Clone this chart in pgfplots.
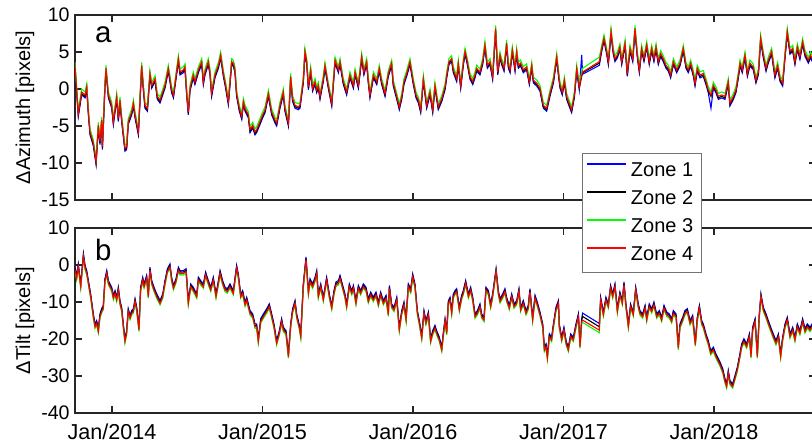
\documentclass[border=0pt]{standalone}
\usepackage{fontspec}
\setmainfont{Liberation Sans}
\usepackage{pgfplots}
\usepackage{pgfplotstable}
\pgfplotsset{compat=1.18}

% azimuth offsets, one row per sampled date (decimal year)
\pgfplotstableread{
t z1 z2 z3 z4
2013.754 2.8 3.0 3.6 3.2
2013.765 -0.5 -0.3 0.3 -0.1
2013.776 -3.7 -3.5 -2.9 -3.3
2013.798 -0.8 -0.6 0.0 -0.4
2013.821 -1.2 -1.0 -0.4 -0.8
2013.832 -0.1 0.1 0.7 0.3
2013.843 -3.5 -3.3 -2.7 -3.1
2013.854 -6.2 -6.0 -5.4 -5.8
2013.876 -7.7 -7.5 -6.9 -7.3
2013.894 -10.2 -10.0 -9.4 -9.8
2013.909 -5.3 -5.1 -4.5 -4.9
2013.920 -7.5 -7.3 -6.7 -7.1
2013.931 -4.6 -4.4 -3.8 -4.2
2013.936 -8.2 -8.0 -7.4 -7.8
2013.953 0.1 0.3 0.9 0.5
2013.960 2.4 2.6 3.2 2.8
2013.976 -1.2 -1.0 -0.4 -0.8
2013.998 -2.6 -2.4 -1.8 -2.2
2014.009 -4.8 -4.6 -4.0 -4.4
2014.031 -1.4 -1.2 -0.6 -1.0
2014.042 -4.4 -4.2 -3.6 -4.0
2014.053 -1.9 -1.7 -1.1 -1.5
2014.064 -4.4 -4.2 -3.6 -4.0
2014.086 -8.4 -8.2 -7.6 -8.0
2014.097 -8.2 -8.0 -7.4 -7.8
2014.108 -4.8 -4.6 -4.0 -4.4
2014.131 -3.5 -3.3 -2.7 -3.1
2014.142 -2.3 -2.1 -1.5 -1.9
2014.153 -3.9 -3.7 -3.1 -3.5
2014.175 -6.2 -6.0 -5.4 -5.8
2014.197 2.8 3.0 3.6 3.2
2014.208 -0.1 0.1 0.7 0.3
2014.219 -2.6 -2.4 -1.8 -2.2
2014.235 -3.0 -2.8 -2.2 -2.6
2014.252 1.7 1.9 2.5 2.1
2014.264 0.1 0.3 0.9 0.5
2014.286 1.0 1.2 1.8 1.4
2014.301 -1.4 -1.2 -0.6 -1.0
2014.319 -1.9 -1.7 -1.1 -1.5
2014.352 0.1 0.3 0.9 0.5
2014.374 2.4 2.6 3.2 2.8
2014.385 1.0 1.2 1.8 1.4
2014.396 -0.5 -0.3 0.3 -0.1
2014.408 -1.2 -1.0 -0.4 -0.8
2014.441 3.7 3.9 4.5 4.1
2014.452 1.9 2.1 2.7 2.3
2014.474 2.2 2.4 3.0 2.6
2014.485 2.6 2.8 3.4 3.0
2014.496 -0.8 -0.6 0.0 -0.4
2014.507 -3.5 -3.3 -2.7 -3.1
2014.518 -0.3 -0.1 0.5 0.1
2014.540 1.5 1.7 2.3 1.9
2014.551 0.6 0.8 1.4 1.0
2014.574 2.2 2.4 3.0 2.6
2014.596 3.3 3.5 4.1 3.7
2014.607 0.6 0.8 1.4 1.0
2014.618 1.9 2.1 2.7 2.3
2014.640 3.3 3.5 4.1 3.7
2014.651 1.9 2.1 2.7 2.3
2014.662 -1.0 -0.8 -0.2 -0.6
2014.684 1.5 1.7 2.3 1.9
2014.707 2.8 3.0 3.6 3.2
2014.722 4.2 4.4 5.0 4.6
2014.740 1.7 1.9 2.5 2.1
2014.755 0.1 0.3 0.9 0.5
2014.773 -2.1 -1.9 -1.3 -1.7
2014.795 3.3 3.5 4.1 3.7
2014.806 3.1 3.3 3.9 3.5
2014.817 2.2 2.4 3.0 2.6
2014.828 -1.0 -0.8 -0.2 -0.6
2014.846 -3.0 -2.8 -2.2 -2.6
2014.862 -4.1 -3.9 -3.3 -3.7
2014.873 -2.1 -1.9 -1.3 -1.7
2014.884 -3.0 -2.8 -2.2 -2.6
2014.906 -3.9 -3.7 -3.1 -3.5
2014.917 -5.9 -5.7 -5.1 -5.5
2014.935 -5.3 -5.1 -4.5 -4.9
2014.950 -6.2 -6.0 -5.4 -5.8
2014.961 -5.9 -5.7 -5.1 -5.5
2014.983 -4.8 -4.6 -4.0 -4.4
2015.001 -3.9 -3.7 -3.1 -3.5
2015.017 -3.2 -3.0 -2.4 -2.8
2015.039 -1.0 -0.8 -0.2 -0.6
2015.061 -3.5 -3.3 -2.7 -3.1
2015.083 -4.6 -4.4 -3.8 -4.2
2015.094 -5.0 -4.8 -4.2 -4.6
2015.116 -2.6 -2.4 -1.8 -2.2
2015.138 -0.8 -0.6 0.0 -0.4
2015.149 -3.0 -2.8 -2.2 -2.6
2015.172 -5.0 -4.8 -4.2 -4.6
2015.187 1.3 1.5 2.1 1.7
2015.200 -1.7 -1.5 -0.9 -1.3
2015.216 -2.6 -2.4 -1.8 -2.2
2015.238 -2.8 -2.6 -2.0 -2.4
2015.249 -2.6 -2.4 -1.8 -2.2
2015.271 0.8 1.0 1.6 1.2
2015.282 4.7 4.9 5.5 5.1
2015.294 3.3 3.5 4.1 3.7
2015.305 -0.1 0.1 0.7 0.3
2015.320 2.2 2.4 3.0 2.6
2015.333 -0.3 -0.1 0.5 0.1
2015.349 0.6 0.8 1.4 1.0
2015.360 -0.5 -0.3 0.3 -0.1
2015.371 0.1 0.3 0.9 0.5
2015.382 -1.4 -1.2 -0.6 -1.0
2015.404 1.0 1.2 1.8 1.4
2015.415 2.8 3.0 3.6 3.2
2015.437 0.1 0.3 0.9 0.5
2015.460 -2.3 -2.1 -1.5 -1.9
2015.482 3.5 3.7 4.3 3.9
2015.504 2.2 2.4 3.0 2.6
2015.515 3.3 3.5 4.1 3.7
2015.537 0.6 0.8 1.4 1.0
2015.559 -0.8 -0.6 0.0 -0.4
2015.581 1.5 1.7 2.3 1.9
2015.604 0.1 0.3 0.9 0.5
2015.615 1.9 2.1 2.7 2.3
2015.637 0.1 0.3 0.9 0.5
2015.659 4.0 4.2 4.8 4.4
2015.674 1.9 2.1 2.7 2.3
2015.692 3.3 3.5 4.1 3.7
2015.703 0.8 1.0 1.6 1.2
2015.714 -1.2 -1.0 -0.4 -0.8
2015.737 1.5 1.7 2.3 1.9
2015.759 0.6 0.8 1.4 1.0
2015.776 2.4 2.6 3.2 2.8
2015.792 0.6 0.8 1.4 1.0
2015.814 -1.0 -0.8 -0.2 -0.6
2015.836 1.7 1.9 2.5 2.1
2015.858 3.1 3.3 3.9 3.5
2015.869 0.4 0.6 1.2 0.8
2015.892 -1.4 -1.2 -0.6 -1.0
2015.909 -2.8 -2.6 -2.0 -2.4
2015.925 -1.4 -1.2 -0.6 -1.0
2015.940 0.6 0.8 1.4 1.0
2015.958 1.7 1.9 2.5 2.1
2015.980 3.3 3.5 4.1 3.7
2016.002 0.6 0.8 1.4 1.0
2016.020 -1.2 -1.0 -0.4 -0.8
2016.036 -1.9 -1.7 -1.1 -1.5
2016.051 -3.2 -3.0 -2.4 -2.8
2016.069 1.0 1.2 1.8 1.4
2016.091 -2.6 -2.4 -1.8 -2.2
2016.113 -0.8 -0.6 0.0 -0.4
2016.131 -3.2 -3.0 -2.4 -2.8
2016.146 0.1 0.3 0.9 0.5
2016.168 -2.8 -2.6 -2.0 -2.4
2016.191 -1.7 -1.5 -0.9 -1.3
2016.213 -0.1 0.1 0.7 0.3
2016.224 1.5 1.7 2.3 1.9
2016.239 3.3 3.5 4.1 3.7
2016.257 3.7 3.9 4.5 4.1
2016.268 2.2 2.4 3.0 2.6
2016.290 1.0 1.2 1.8 1.4
2016.301 3.1 3.3 3.9 3.5
2016.317 0.1 0.3 0.9 0.5
2016.335 3.3 3.5 4.1 3.7
2016.346 4.7 4.9 5.5 5.1
2016.361 3.3 3.5 4.1 3.7
2016.379 1.3 1.5 2.1 1.7
2016.397 0.6 0.8 1.4 1.0
2016.412 1.5 1.7 2.3 1.9
2016.423 2.4 2.6 3.2 2.8
2016.445 1.9 2.1 2.7 2.3
2016.463 3.3 3.5 4.1 3.7
2016.478 5.6 5.8 6.4 6.0
2016.494 2.8 3.0 3.6 3.2
2016.512 3.3 3.5 4.1 3.7
2016.529 1.3 1.5 2.1 1.7
2016.549 7.8 8.0 8.6 8.2
2016.563 1.9 2.1 2.7 2.3
2016.578 4.2 4.4 5.0 4.6
2016.589 3.3 3.5 4.1 3.7
2016.605 2.4 2.6 3.2 2.8
2016.622 5.8 6.0 6.6 6.2
2016.634 2.8 3.0 3.6 3.2
2016.645 2.2 2.4 3.0 2.6
2016.660 4.9 5.1 5.7 5.3
2016.678 2.4 2.6 3.2 2.8
2016.689 4.7 4.9 5.5 5.1
2016.700 2.8 3.0 3.6 3.2
2016.715 3.1 3.3 3.9 3.5
2016.733 2.2 2.4 3.0 2.6
2016.755 2.6 2.8 3.4 3.0
2016.773 0.6 0.8 1.4 1.0
2016.789 2.8 3.0 3.6 3.2
2016.800 0.8 1.0 1.6 1.2
2016.822 0.4 0.6 1.2 0.8
2016.844 -0.3 -0.1 0.5 0.1
2016.866 -2.6 -2.4 -1.8 -2.2
2016.888 -3.0 -2.8 -2.2 -2.6
2016.910 -1.0 -0.8 -0.2 -0.6
2016.933 0.8 1.0 1.6 1.2
2016.955 4.0 4.2 4.8 4.4
2016.966 1.9 2.1 2.7 2.3
2016.977 0.1 0.3 0.9 0.5
2016.992 -0.8 -0.6 0.0 -0.4
2017.006 0.8 1.0 1.6 1.2
2017.021 -1.4 -1.2 -0.6 -1.0
2017.037 -2.3 -2.1 -1.5 -1.9
2017.054 -3.2 -3.0 -2.4 -2.8
2017.072 -1.2 -1.0 -0.4 -0.8
2017.088 2.4 2.6 3.2 2.8
2017.105 -0.1 0.1 0.7 0.3
2017.121 4.6 1.7 2.3 1.9
2017.127 2.0 2.2 2.8 2.3
2017.238 3.2 3.5 4.3 3.7
2017.254 5.1 5.3 5.9 5.5
2017.269 6.5 6.7 7.3 6.9
2017.287 4.7 4.9 5.5 5.1
2017.298 3.3 3.5 4.1 3.7
2017.316 7.4 7.6 8.2 7.8
2017.331 4.7 4.9 5.5 5.1
2017.342 3.7 3.9 4.5 4.1
2017.358 4.2 4.4 5.0 4.6
2017.375 5.3 5.5 6.1 5.7
2017.387 3.3 3.5 4.1 3.7
2017.409 5.8 6.0 6.6 6.2
2017.424 1.7 1.9 2.5 2.1
2017.442 5.1 5.3 5.9 5.5
2017.460 3.7 3.9 4.5 4.1
2017.475 7.8 8.0 8.6 8.2
2017.491 4.2 4.4 5.0 4.6
2017.504 2.2 2.4 3.0 2.6
2017.519 5.1 5.3 5.9 5.5
2017.535 3.7 3.9 4.5 4.1
2017.553 5.6 5.8 6.4 6.0
2017.570 3.3 3.5 4.1 3.7
2017.586 5.1 5.3 5.9 5.5
2017.601 3.7 3.9 4.5 4.1
2017.615 5.3 5.5 6.1 5.7
2017.630 3.3 3.5 4.1 3.7
2017.646 4.4 4.6 5.2 4.8
2017.663 3.7 3.9 4.5 4.1
2017.681 2.8 3.0 3.6 3.2
2017.697 2.4 2.6 3.2 2.8
2017.712 1.5 1.7 2.3 1.9
2017.730 3.3 3.5 4.1 3.7
2017.752 2.2 2.4 3.0 2.6
2017.774 3.1 3.3 3.9 3.5
2017.796 5.1 5.3 5.9 5.5
2017.814 2.8 3.0 3.6 3.2
2017.829 2.2 2.4 3.0 2.6
2017.845 3.1 3.3 3.9 3.5
2017.863 1.7 1.9 2.5 2.1
2017.874 0.4 0.6 1.2 0.8
2017.889 2.4 2.6 3.2 2.8
2017.907 1.5 1.7 2.3 1.9
2017.929 1.7 1.9 2.5 2.1
2017.947 0.6 0.8 1.4 1.0
2017.962 -0.5 -0.3 0.3 -0.1
2017.980 -2.6 -1.0 -0.4 -0.8
2017.996 0.1 0.3 0.9 0.5
2018.013 -0.5 -0.3 0.3 -0.1
2018.029 -1.4 -1.2 -0.6 -1.0
2018.051 -1.2 -1.0 -0.4 -0.8
2018.073 -1.4 -1.2 -0.6 -1.0
2018.095 0.6 0.8 1.4 1.0
2018.106 -2.3 -2.1 -1.5 -1.9
2018.129 -1.4 -1.2 -0.6 -1.0
2018.146 -0.5 -0.3 0.3 -0.1
2018.162 1.5 1.7 2.3 1.9
2018.173 3.1 3.3 3.9 3.5
2018.188 2.2 2.4 3.0 2.6
2018.206 4.2 4.4 5.0 4.6
2018.222 1.7 1.9 2.5 2.1
2018.239 3.1 3.3 3.9 3.5
2018.261 2.6 2.8 3.4 3.0
2018.279 0.8 1.0 1.6 1.2
2018.295 1.9 2.1 2.7 2.3
2018.310 6.5 6.7 7.3 6.9
2018.328 4.2 4.4 5.0 4.6
2018.346 2.4 2.6 3.2 2.8
2018.361 3.5 3.7 4.3 3.9
2018.383 4.7 4.9 5.5 5.1
2018.405 1.5 1.7 2.3 1.9
2018.423 2.8 3.0 3.6 3.2
2018.439 1.0 1.2 1.8 1.4
2018.456 0.4 0.6 1.2 0.8
2018.472 4.2 4.4 5.0 4.6
2018.487 7.4 7.6 8.2 7.8
2018.505 4.7 4.9 5.5 5.1
2018.523 5.1 5.3 5.9 5.5
2018.538 3.3 3.5 4.1 3.7
2018.554 5.3 5.5 6.1 5.7
2018.571 4.0 4.2 4.8 4.4
2018.589 6.0 6.2 6.8 6.4
2018.605 4.4 4.6 5.2 4.8
2018.627 3.5 3.7 4.3 3.9
2018.642 4.2 4.4 5.0 4.6
2018.665 3.2 3.4 4.0 3.6
2018.690 4.6 4.8 5.4 5.0
}\azdata

% tilt offsets
\pgfplotstableread{
t z1 z2 z3 z4
2013.754 -0.6 -1.0 -1.8 -1.4
2013.765 -2.8 -3.2 -4.0 -3.6
2013.776 0.3 -0.1 -0.9 -0.5
2013.792 -5.1 -5.5 -6.3 -5.9
2013.810 3.1 2.7 1.9 2.3
2013.821 -0.1 -0.5 -1.3 -0.9
2013.832 -1.5 -1.9 -2.7 -2.3
2013.843 -4.2 -4.6 -5.4 -5.0
2013.858 -7.8 -8.2 -9.0 -8.6
2013.876 -13.2 -13.6 -14.4 -14.0
2013.887 -15.9 -16.3 -17.1 -16.7
2013.898 -15.0 -15.4 -16.2 -15.8
2013.909 -17.2 -17.6 -18.4 -18.0
2013.920 -13.2 -13.6 -14.4 -14.0
2013.931 -11.8 -12.2 -13.0 -12.6
2013.942 -10.9 -11.3 -12.1 -11.7
2013.953 -3.7 -4.1 -4.9 -4.5
2013.965 -1.5 -1.9 -2.7 -2.3
2013.976 -4.2 -4.6 -5.4 -5.0
2013.998 -6.0 -6.4 -7.2 -6.8
2014.009 -8.2 -8.6 -9.4 -9.0
2014.020 -6.9 -7.3 -8.1 -7.7
2014.031 -8.7 -9.1 -9.9 -9.5
2014.042 -6.0 -6.4 -7.2 -6.8
2014.053 -9.6 -10.0 -10.8 -10.4
2014.064 -11.4 -11.8 -12.6 -12.2
2014.075 -15.9 -16.3 -17.1 -16.7
2014.086 -19.9 -20.3 -21.1 -20.7
2014.097 -17.7 -18.1 -18.9 -18.5
2014.108 -11.8 -12.2 -13.0 -12.6
2014.120 -13.6 -14.0 -14.8 -14.4
2014.131 -12.3 -12.7 -13.5 -13.1
2014.142 -11.8 -12.2 -13.0 -12.6
2014.153 -9.1 -9.5 -10.3 -9.9
2014.164 -11.4 -11.8 -12.6 -12.2
2014.179 -16.8 -17.2 -18.0 -17.6
2014.190 -6.0 -6.4 -7.2 -6.8
2014.204 -3.3 -3.7 -4.5 -4.1
2014.213 -5.1 -5.5 -6.3 -5.9
2014.230 -2.8 -3.2 -4.0 -3.6
2014.241 -7.8 -8.2 -9.0 -8.6
2014.252 -0.6 -1.0 -1.8 -1.4
2014.264 -4.2 -4.6 -5.4 -5.0
2014.279 -6.0 -6.4 -7.2 -6.8
2014.297 -7.8 -8.2 -9.0 -8.6
2014.319 -9.6 -10.0 -10.8 -10.4
2014.337 -7.8 -8.2 -9.0 -8.6
2014.352 -4.2 -4.6 -5.4 -5.0
2014.368 -1.0 -1.4 -2.2 -1.8
2014.385 0.3 -0.1 -0.9 -0.5
2014.396 -3.3 -3.7 -4.5 -4.1
2014.408 -5.5 -5.9 -6.7 -6.3
2014.425 -3.7 -4.1 -4.9 -4.5
2014.441 -0.6 -1.0 -1.8 -1.4
2014.452 -1.5 -1.9 -2.7 -2.3
2014.474 -1.5 -1.9 -2.7 -2.3
2014.492 -1.0 -1.4 -2.2 -1.8
2014.507 -9.6 -10.0 -10.8 -10.4
2014.523 -5.1 -5.5 -6.3 -5.9
2014.540 -6.0 -6.4 -7.2 -6.8
2014.563 -7.8 -8.2 -9.0 -8.6
2014.574 -3.3 -3.7 -4.5 -4.1
2014.589 -4.2 -4.6 -5.4 -5.0
2014.607 -5.1 -5.5 -6.3 -5.9
2014.622 -1.9 -2.3 -3.1 -2.7
2014.640 -4.2 -4.6 -5.4 -5.0
2014.656 -6.0 -6.4 -7.2 -6.8
2014.673 -3.3 -3.7 -4.5 -4.1
2014.691 -7.8 -8.2 -9.0 -8.6
2014.707 -4.2 -4.6 -5.4 -5.0
2014.718 -1.5 -1.9 -2.7 -2.3
2014.735 -4.2 -4.6 -5.4 -5.0
2014.751 -6.0 -6.4 -7.2 -6.8
2014.766 -6.4 -6.8 -7.6 -7.2
2014.784 -5.1 -5.5 -6.3 -5.9
2014.806 -6.9 -7.3 -8.1 -7.7
2014.828 -0.1 -0.5 -1.3 -0.9
2014.839 -2.4 -2.8 -3.6 -3.2
2014.855 -7.8 -8.2 -9.0 -8.6
2014.868 -6.9 -7.3 -8.1 -7.7
2014.884 -10.0 -10.4 -11.2 -10.8
2014.895 -8.7 -9.1 -9.9 -9.5
2014.917 -12.3 -12.7 -13.5 -13.1
2014.935 -13.2 -13.6 -14.4 -14.0
2014.950 -15.9 -16.3 -17.1 -16.7
2014.961 -15.9 -16.3 -17.1 -16.7
2014.972 -19.9 -20.3 -21.1 -20.7
2014.988 -14.5 -14.9 -15.7 -15.3
2015.006 -13.2 -13.6 -14.4 -14.0
2015.028 -11.8 -12.2 -13.0 -12.6
2015.045 -10.5 -10.9 -11.7 -11.3
2015.061 -13.2 -13.6 -14.4 -14.0
2015.076 -15.9 -16.3 -17.1 -16.7
2015.094 -20.4 -20.8 -21.6 -21.2
2015.112 -17.7 -18.1 -18.9 -18.5
2015.127 -14.5 -14.9 -15.7 -15.3
2015.138 -16.8 -17.2 -18.0 -17.6
2015.156 -17.7 -18.1 -18.9 -18.5
2015.172 -24.0 -24.4 -25.2 -24.8
2015.187 -15.9 -16.3 -17.1 -16.7
2015.200 -11.8 -12.2 -13.0 -12.6
2015.216 -9.6 -10.0 -10.8 -10.4
2015.227 -13.2 -13.6 -14.4 -14.0
2015.245 -16.3 -16.7 -17.5 -17.1
2015.254 -18.6 -19.0 -19.8 -19.4
2015.271 -5.1 -5.5 -6.3 -5.9
2015.289 2.2 1.8 1.0 1.4
2015.305 -6.9 -7.3 -8.1 -7.7
2015.316 -3.7 -4.1 -4.9 -4.5
2015.333 -5.1 -5.5 -6.3 -5.9
2015.349 -3.3 -3.7 -4.5 -4.1
2015.360 -1.5 -1.9 -2.7 -2.3
2015.371 -7.8 -8.2 -9.0 -8.6
2015.387 -5.1 -5.5 -6.3 -5.9
2015.404 -8.7 -9.1 -9.9 -9.5
2015.415 -6.0 -6.4 -7.2 -6.8
2015.426 -3.3 -3.7 -4.5 -4.1
2015.444 -7.8 -8.2 -9.0 -8.6
2015.460 -10.9 -11.3 -12.1 -11.7
2015.475 -6.9 -7.3 -8.1 -7.7
2015.488 -4.6 -5.0 -5.8 -5.4
2015.504 -4.2 -4.6 -5.4 -5.0
2015.515 -2.8 -3.2 -4.0 -3.6
2015.533 -5.5 -5.9 -6.7 -6.3
2015.548 -7.8 -8.2 -9.0 -8.6
2015.559 -10.5 -10.9 -11.7 -11.3
2015.577 -5.1 -5.5 -6.3 -5.9
2015.593 -6.9 -7.3 -8.1 -7.7
2015.604 -5.5 -5.9 -6.7 -6.3
2015.621 -9.6 -10.0 -10.8 -10.4
2015.637 -5.5 -5.9 -6.7 -6.3
2015.652 -6.9 -7.3 -8.1 -7.7
2015.670 -5.1 -5.5 -6.3 -5.9
2015.688 -6.0 -6.4 -7.2 -6.8
2015.703 -9.1 -9.5 -10.3 -9.9
2015.719 -7.3 -7.7 -8.5 -8.1
2015.736 -8.7 -9.1 -9.9 -9.5
2015.754 -7.3 -7.7 -8.5 -8.1
2015.770 -10.0 -10.4 -11.2 -10.8
2015.785 -7.3 -7.7 -8.5 -8.1
2015.803 -9.6 -10.0 -10.8 -10.4
2015.821 -8.2 -8.6 -9.4 -9.0
2015.836 -12.7 -13.1 -13.9 -13.5
2015.843 -5.5 -5.9 -6.7 -6.3
2015.858 -10.5 -10.9 -11.7 -11.3
2015.874 -11.4 -11.8 -12.6 -12.2
2015.892 -8.7 -9.1 -9.9 -9.5
2015.909 -16.8 -17.2 -18.0 -17.6
2015.925 -12.3 -12.7 -13.5 -13.1
2015.940 -10.0 -10.4 -11.2 -10.8
2015.954 -14.1 -14.5 -15.3 -14.9
2015.969 -5.1 -5.5 -6.3 -5.9
2015.985 -6.4 -6.8 -7.6 -7.2
2015.998 -2.4 -2.8 -3.6 -3.2
2016.013 -5.1 -5.5 -6.3 -5.9
2016.029 -12.3 -12.7 -13.5 -13.1
2016.042 -15.0 -15.4 -16.2 -15.8
2016.058 -19.0 -19.4 -20.2 -19.8
2016.073 -12.3 -12.7 -13.5 -13.1
2016.086 -15.0 -15.4 -16.2 -15.8
2016.102 -12.7 -13.1 -13.9 -13.5
2016.117 -19.9 -20.3 -21.1 -20.7
2016.131 -17.7 -18.1 -18.9 -18.5
2016.146 -16.3 -16.7 -17.5 -17.1
2016.157 -17.7 -18.1 -18.9 -18.5
2016.175 -19.5 -19.9 -20.7 -20.3
2016.191 -22.2 -22.6 -23.4 -23.0
2016.202 -18.1 -18.5 -19.3 -18.9
2016.213 -14.5 -14.9 -15.7 -15.3
2016.224 -17.7 -18.1 -18.9 -18.5
2016.235 -9.6 -10.0 -10.8 -10.4
2016.246 -8.7 -9.1 -9.9 -9.5
2016.257 -12.3 -12.7 -13.5 -13.1
2016.268 -7.8 -8.2 -9.0 -8.6
2016.279 -6.9 -7.3 -8.1 -7.7
2016.290 -6.4 -6.8 -7.6 -7.2
2016.308 -11.4 -11.8 -12.6 -12.2
2016.323 -8.2 -8.6 -9.4 -9.0
2016.334 -6.9 -7.3 -8.1 -7.7
2016.350 -4.2 -4.6 -5.4 -5.0
2016.368 -7.8 -8.2 -9.0 -8.6
2016.383 -6.0 -6.4 -7.2 -6.8
2016.397 -8.7 -9.1 -9.9 -9.5
2016.412 -13.2 -13.6 -14.4 -14.0
2016.428 -12.3 -12.7 -13.5 -13.1
2016.445 -10.5 -10.9 -11.7 -11.3
2016.456 -13.2 -13.6 -14.4 -14.0
2016.472 -14.1 -14.5 -15.3 -14.9
2016.485 -6.0 -6.4 -7.2 -6.8
2016.501 -6.9 -7.3 -8.1 -7.7
2016.516 -10.5 -10.9 -11.7 -11.3
2016.529 -7.8 -8.2 -9.0 -8.6
2016.552 -1.0 -1.4 -2.2 -1.8
2016.567 -6.9 -7.3 -8.1 -7.7
2016.578 -9.1 -9.5 -10.3 -9.9
2016.596 -7.8 -8.2 -9.0 -8.6
2016.611 -6.4 -6.8 -7.6 -7.2
2016.622 -8.7 -9.1 -9.9 -9.5
2016.640 -10.9 -11.3 -12.1 -11.7
2016.656 -7.8 -8.2 -9.0 -8.6
2016.671 -10.5 -10.9 -11.7 -11.3
2016.689 -9.6 -10.0 -10.8 -10.4
2016.704 -6.4 -6.8 -7.6 -7.2
2016.715 -11.4 -11.8 -12.6 -12.2
2016.733 -9.6 -10.0 -10.8 -10.4
2016.751 -12.3 -12.7 -13.5 -13.1
2016.766 -10.9 -11.3 -12.1 -11.7
2016.777 -6.4 -6.8 -7.6 -7.2
2016.795 -14.1 -14.5 -15.3 -14.9
2016.811 -8.2 -8.6 -9.4 -9.0
2016.826 -10.0 -10.4 -11.2 -10.8
2016.844 -12.7 -13.1 -13.9 -13.5
2016.862 -15.9 -16.3 -17.1 -16.7
2016.873 -22.2 -22.6 -23.4 -23.0
2016.884 -21.3 -21.7 -22.5 -22.1
2016.893 -24.4 -24.8 -25.6 -25.2
2016.906 -18.6 -19.0 -19.8 -19.4
2016.921 -19.5 -19.9 -20.7 -20.3
2016.933 -15.9 -16.3 -17.1 -16.7
2016.950 -11.4 -11.8 -12.6 -12.2
2016.966 -9.6 -10.0 -10.8 -10.4
2016.972 -15.9 -16.3 -17.1 -16.7
2016.988 -19.5 -19.9 -20.7 -20.3
2017.003 -16.8 -17.2 -18.0 -17.6
2017.017 -20.4 -20.8 -21.6 -21.2
2017.032 -22.2 -22.6 -23.4 -23.0
2017.048 -18.6 -19.0 -19.8 -19.4
2017.065 -19.5 -19.9 -20.7 -20.3
2017.083 -15.9 -16.3 -17.1 -16.7
2017.099 -13.2 -13.6 -14.4 -14.0
2017.110 -21.3 -21.7 -22.5 -22.1
2017.121 -14.5 -14.9 -15.7 -15.3
2017.127 -13.0 -13.9 -15.5 -14.9
2017.238 -15.8 -16.7 -18.3 -17.6
2017.247 -8.7 -9.1 -9.9 -9.5
2017.265 -12.7 -13.1 -13.9 -13.5
2017.282 -8.7 -9.1 -9.9 -9.5
2017.298 -10.5 -10.9 -11.7 -11.3
2017.313 -5.5 -5.9 -6.7 -6.3
2017.327 -7.8 -8.2 -9.0 -8.6
2017.342 -5.1 -5.5 -6.3 -5.9
2017.358 -11.8 -12.2 -13.0 -12.6
2017.375 -7.3 -7.7 -8.5 -8.1
2017.391 -9.6 -10.0 -10.8 -10.4
2017.402 -4.6 -5.0 -5.8 -5.4
2017.415 -10.5 -10.9 -11.7 -11.3
2017.431 -15.9 -16.3 -17.1 -16.7
2017.446 -10.5 -10.9 -11.7 -11.3
2017.464 -12.7 -13.1 -13.9 -13.5
2017.480 -6.0 -6.4 -7.2 -6.8
2017.497 -10.5 -10.9 -11.7 -11.3
2017.508 -12.3 -12.7 -13.5 -13.1
2017.526 -13.2 -13.6 -14.4 -14.0
2017.542 -10.9 -11.3 -12.1 -11.7
2017.553 -14.1 -14.5 -15.3 -14.9
2017.570 -10.5 -10.9 -11.7 -11.3
2017.586 -11.8 -12.2 -13.0 -12.6
2017.601 -10.0 -10.4 -11.2 -10.8
2017.619 -13.2 -13.6 -14.4 -14.0
2017.637 -12.3 -12.7 -13.5 -13.1
2017.652 -14.1 -14.5 -15.3 -14.9
2017.668 -10.9 -11.3 -12.1 -11.7
2017.686 -12.7 -13.1 -13.9 -13.5
2017.703 -13.2 -13.6 -14.4 -14.0
2017.719 -14.5 -14.9 -15.7 -15.3
2017.730 -12.3 -12.7 -13.5 -13.1
2017.748 -13.2 -13.6 -14.4 -14.0
2017.763 -21.7 -22.1 -22.9 -22.5
2017.774 -15.9 -16.3 -17.1 -16.7
2017.792 -14.1 -14.5 -15.3 -14.9
2017.807 -12.3 -12.7 -13.5 -13.1
2017.823 -11.8 -12.2 -13.0 -12.6
2017.841 -15.0 -15.4 -16.2 -15.8
2017.858 -13.6 -14.0 -14.8 -14.4
2017.876 -20.8 -21.2 -22.0 -21.6
2017.889 -14.1 -14.5 -15.3 -14.9
2017.903 -10.9 -11.3 -12.1 -11.7
2017.918 -15.0 -15.4 -16.2 -15.8
2017.929 -15.9 -16.3 -17.1 -16.7
2017.947 -18.6 -19.0 -19.8 -19.4
2017.962 -20.4 -20.8 -21.6 -21.2
2017.978 -23.1 -23.5 -24.3 -23.9
2017.996 -22.2 -22.6 -23.4 -23.0
2018.013 -24.0 -24.4 -25.2 -24.8
2018.029 -25.3 -25.7 -26.5 -26.1
2018.040 -26.2 -26.6 -27.4 -27.0
2018.058 -28.0 -28.4 -29.2 -28.8
2018.073 -30.7 -31.1 -31.9 -31.5
2018.084 -32.1 -32.5 -33.3 -32.9
2018.095 -28.5 -28.9 -29.7 -29.3
2018.106 -31.2 -31.6 -32.4 -32.0
2018.124 -32.1 -32.5 -33.3 -32.9
2018.140 -29.8 -30.2 -31.0 -30.6
2018.155 -27.6 -28.0 -28.8 -28.4
2018.168 -24.9 -25.3 -26.1 -25.7
2018.184 -21.3 -21.7 -22.5 -22.1
2018.199 -19.9 -20.3 -21.1 -20.7
2018.217 -21.3 -21.7 -22.5 -22.1
2018.235 -18.6 -19.0 -19.8 -19.4
2018.246 -24.0 -24.4 -25.2 -24.8
2018.257 -16.8 -17.2 -18.0 -17.6
2018.273 -14.5 -14.9 -15.7 -15.3
2018.288 -24.0 -24.4 -25.2 -24.8
2018.301 -13.2 -13.6 -14.4 -14.0
2018.312 -7.8 -8.2 -9.0 -8.6
2018.328 -11.4 -11.8 -12.6 -12.2
2018.346 -13.2 -13.6 -14.4 -14.0
2018.361 -15.0 -15.4 -16.2 -15.8
2018.377 -16.8 -17.2 -18.0 -17.6
2018.394 -18.6 -19.0 -19.8 -19.4
2018.412 -20.4 -20.8 -21.6 -21.2
2018.428 -18.6 -19.0 -19.8 -19.4
2018.443 -24.0 -24.4 -25.2 -24.8
2018.456 -19.5 -19.9 -20.7 -20.3
2018.472 -15.9 -16.3 -17.1 -16.7
2018.487 -14.1 -14.5 -15.3 -14.9
2018.505 -18.6 -19.0 -19.8 -19.4
2018.523 -16.8 -17.2 -18.0 -17.6
2018.538 -19.5 -19.9 -20.7 -20.3
2018.554 -15.9 -16.3 -17.1 -16.7
2018.571 -17.7 -18.1 -18.9 -18.5
2018.589 -14.5 -14.9 -15.7 -15.3
2018.605 -17.2 -17.6 -18.4 -18.0
2018.620 -15.9 -16.3 -17.1 -16.7
2018.638 -16.8 -17.2 -18.0 -17.6
2018.660 -15.4 -15.8 -16.6 -16.2
2018.690 -17.7 -18.1 -18.9 -18.5
}\tiltdata

\pgfplotsset{
  panel/.style={
    scale only axis, width=370.5pt, height=92.5pt,
    xmin=2013.754, xmax=2018.678,
    xtick={2014,2015,2016,2017,2018},
    tick align=inside, tick pos=both, major tick length=3.5pt,
    axis line style={black!85, line width=0.6pt},
    every tick/.style={black!85, line width=0.6pt},
    /pgf/number format/assume math mode=true,
    yticklabel style={font=\fontsize{9.8}{11}\selectfont, inner sep=1pt, xshift=-1.5pt},
    xticklabel style={font=\fontsize{10.8}{12}\selectfont, yshift=-2pt},
    every axis y label/.style={at={(axis description cs:-0.0675,0.5)}, rotate=90, anchor=center,
      font=\fontsize{10}{12}\selectfont},
  },
  zone1/.style={blue, line width=0.55pt},
  zone2/.style={black, line width=0.55pt},
  zone3/.style={green, line width=0.55pt},
  zone4/.style={red, line width=0.55pt},
}

\begin{document}
\begin{tikzpicture}
\path[use as bounding box] (0,0) rectangle (406pt,-222.5pt);

% panel a
\begin{axis}[panel, at={(37.5pt,-7.5pt)}, anchor=north west,
  ymin=-15, ymax=10, ytick={-15,-10,...,10},
  xticklabels={}, ylabel={ΔAzimuth [pixels]}]
\addplot[zone1] table[x=t, y=z1] {\azdata};
\addplot[zone2] table[x=t, y=z2] {\azdata};
\addplot[zone3] table[x=t, y=z3] {\azdata};
\addplot[zone4] table[x=t, y=z4] {\azdata};
\node[anchor=base west, font=\fontsize{14.7}{17}\selectfont] at (rel axis cs:0.0175,0.849) {a};
\end{axis}

% panel b, carries the legend so it sits over both panels
\begin{axis}[panel, at={(37.5pt,-114pt)}, anchor=north west,
  ymin=-40, ymax=10, ytick={-40,-30,...,10},
  xticklabels={Jan/2014,Jan/2015,Jan/2016,Jan/2017,Jan/2018},
  ylabel={ΔTilt [pixels]},
  legend cell align=left,
  legend image code/.code={\draw[#1, line width=0.8pt] (0pt,0.35em) -- (19.5pt,0.35em);},
  legend style={at={(rel axis cs:0.684,1.405)}, anchor=north west,
    draw=black!55, line width=0.5pt, fill=white, row sep=1.6pt,
    font=\fontsize{10}{12}\selectfont, inner xsep=2pt, inner ysep=2.5pt}]
\addplot[zone1] table[x=t, y=z1] {\tiltdata};
\addplot[zone2] table[x=t, y=z2] {\tiltdata};
\addplot[zone3] table[x=t, y=z3] {\tiltdata};
\addplot[zone4] table[x=t, y=z4] {\tiltdata};
\legend{Zone 1, Zone 2, Zone 3, Zone 4}
\node[anchor=base west, font=\fontsize{14.7}{17}\selectfont] at (rel axis cs:0.0175,0.827) {b};
\end{axis}
\end{tikzpicture}
\end{document}
